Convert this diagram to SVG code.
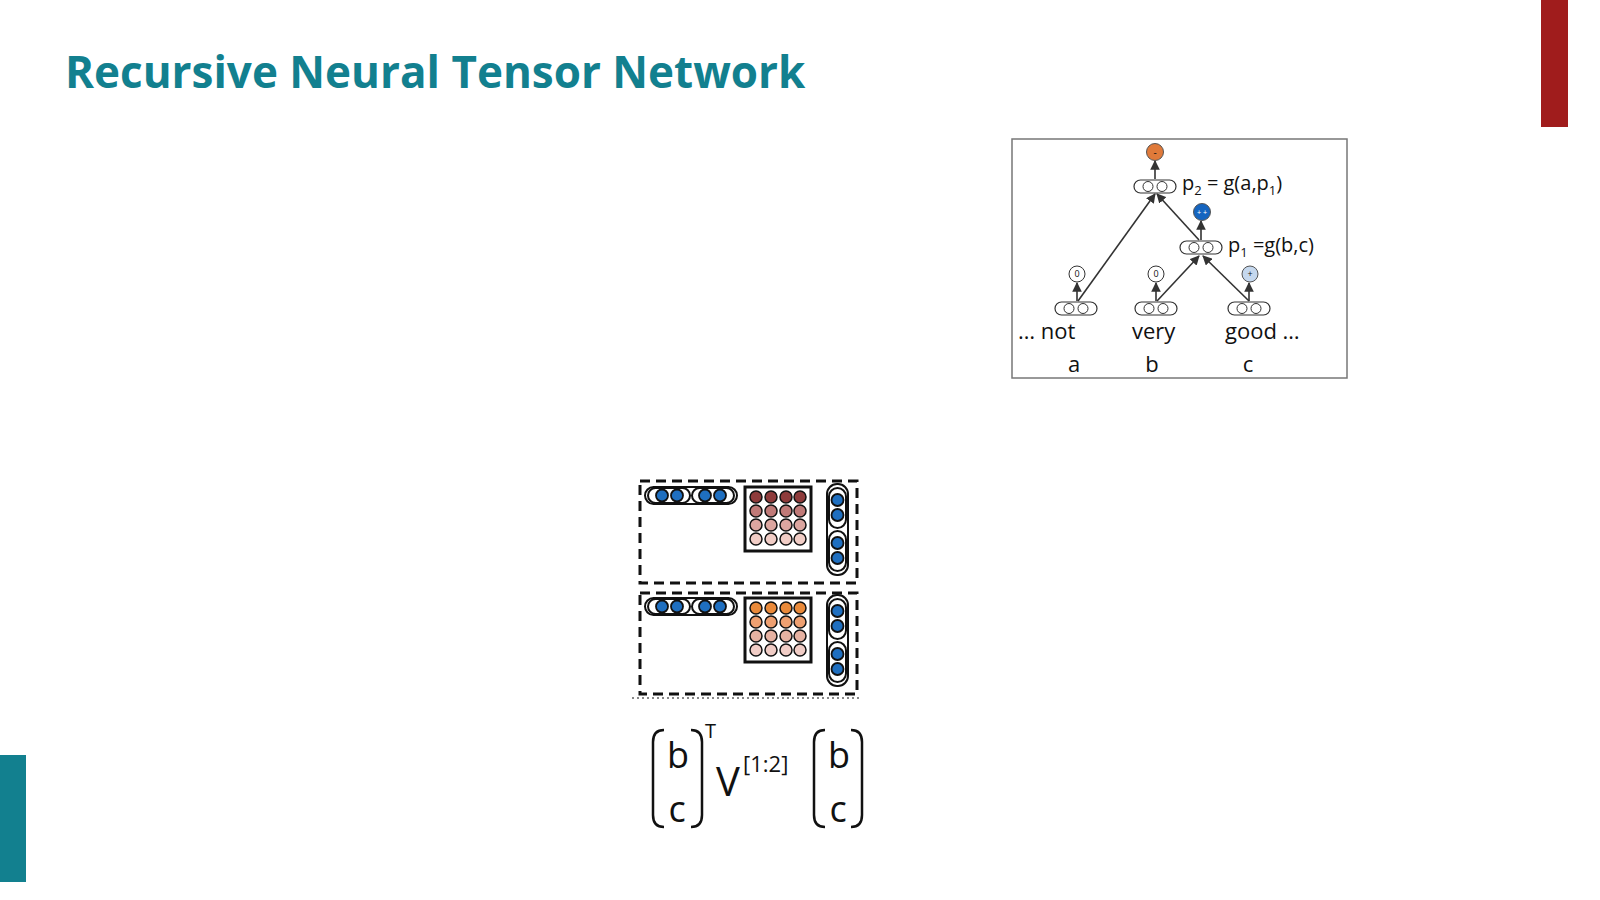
<svg xmlns="http://www.w3.org/2000/svg" width="1600" height="900" viewBox="0 0 1600 900">
<defs>
<style>
.t{font-family:"Open Sans","Liberation Sans",sans-serif;fill:#111}
.pill{fill:#fff;stroke:#333;stroke-width:1.2}
.c{fill:#fff;stroke:#333;stroke-width:1}
.e{stroke:#333;stroke-width:1.6;fill:none;marker-end:url(#ah)}
.dash{fill:none;stroke:#111;stroke-width:3;stroke-dasharray:10,6}
.bp{fill:#fff;stroke:#111;stroke-width:2}
.bc{fill:#1f6fc0;stroke:#111;stroke-width:1.8}
.mb{fill:#fff;stroke:#111;stroke-width:3}
.br{fill:none;stroke:#111;stroke-width:2.5}
</style>
<marker id="ah" viewBox="0 0 10 10" refX="9" refY="5" markerWidth="6" markerHeight="6" orient="auto"><path d="M0,0L10,5L0,10z" fill="#333"/></marker>
</defs>
<rect width="1600" height="900" fill="#fff"/>
<text x="65" y="88" style="font-family:'Open Sans','Liberation Sans',sans-serif;font-weight:bold;font-size:44px;fill:#12808f">Recursive Neural Tensor Network</text>
<rect x="1541" y="0" width="27" height="127" fill="#a01c1c"/>
<rect x="0" y="755" width="26" height="127" fill="#12808f"/>

<rect x="1012" y="139" width="335" height="239" fill="#fff" stroke="#777" stroke-width="1.5"/>
<g id="connectors">
<line class="e" x1="1078" y1="301" x2="1155" y2="194"/>
<line class="e" x1="1199" y1="240" x2="1157" y2="194"/>
<line class="e" x1="1157" y1="301" x2="1199" y2="256"/>
<line class="e" x1="1249" y1="301" x2="1203" y2="256"/>
<line class="e" x1="1155" y1="179" x2="1155" y2="161"/>
<line class="e" x1="1201" y1="240" x2="1201" y2="221"/>
<line class="e" x1="1077" y1="301" x2="1077" y2="283"/>
<line class="e" x1="1156" y1="301" x2="1156" y2="283"/>
<line class="e" x1="1249" y1="301" x2="1249" y2="283"/>
</g>
<g id="p2"><rect class="pill" x="1134" y="180" width="42" height="13" rx="6.5"/><circle class="c" cx="1148" cy="186.5" r="5"/><circle class="c" cx="1162" cy="186.5" r="5"/>
<text class="t" x="1182" y="190" font-size="20">p<tspan font-size="13" dy="5">2</tspan><tspan dy="-5"> = g(a,p</tspan><tspan font-size="13" dy="5">1</tspan><tspan dy="-5">)</tspan></text></g>
<g id="p2s"><circle cx="1155" cy="152" r="8.5" fill="#e07a3a" stroke="#555"/><text class="t" x="1155" y="156" font-size="10" text-anchor="middle">-</text></g>
<g id="p1"><rect class="pill" x="1180" y="241" width="42" height="13" rx="6.5"/><circle class="c" cx="1194" cy="247.5" r="5"/><circle class="c" cx="1208" cy="247.5" r="5"/>
<text class="t" x="1228" y="252" font-size="20">p<tspan font-size="13" dy="5">1</tspan><tspan dy="-5"> =g(b,c)</tspan></text></g>
<g id="p1s"><circle cx="1202" cy="212" r="8.5" fill="#1565c0" stroke="#555"/><text x="1202" y="215" font-size="7" fill="#fff" text-anchor="middle" font-family="Liberation Sans,sans-serif">+ +</text></g>
<g id="leafA"><rect class="pill" x="1055" y="302" width="42" height="13" rx="6.5"/><circle class="c" cx="1069" cy="308.5" r="5"/><circle class="c" cx="1083" cy="308.5" r="5"/><circle class="c" cx="1077" cy="274" r="8"/><text class="t" x="1077" y="277" font-size="9" text-anchor="middle">0</text></g>
<g id="leafB"><rect class="pill" x="1135" y="302" width="42" height="13" rx="6.5"/><circle class="c" cx="1149" cy="308.5" r="5"/><circle class="c" cx="1163" cy="308.5" r="5"/><circle class="c" cx="1156" cy="274" r="8"/><text class="t" x="1156" y="277" font-size="9" text-anchor="middle">0</text></g>
<g id="leafC"><rect class="pill" x="1228" y="302" width="42" height="13" rx="6.5"/><circle class="c" cx="1242" cy="308.5" r="5"/><circle class="c" cx="1256" cy="308.5" r="5"/><circle cx="1250" cy="274" r="8" fill="#c5d8ee" stroke="#555"/><text class="t" x="1250" y="277" font-size="9" text-anchor="middle">+</text></g>
<text class="t" font-size="22" x="1018" y="339">…  not</text>
<text class="t" font-size="22" x="1132" y="339">very</text>
<text class="t" font-size="22" x="1225" y="339">good …</text>
<text class="t" font-size="22" x="1074" y="372" text-anchor="middle">a</text>
<text class="t" font-size="22" x="1152" y="372" text-anchor="middle">b</text>
<text class="t" font-size="22" x="1248" y="372" text-anchor="middle">c</text>

<g id="slice1">
<rect class="dash" x="640" y="481" width="217" height="102"/>
<rect class="bp" x="645" y="487" width="92" height="17" rx="8.5"/>
<rect class="bp" x="648" y="488" width="42" height="15" rx="7.5"/><rect class="bp" x="692" y="488" width="42" height="15" rx="7.5"/>
<circle class="bc" cx="662" cy="495.5" r="6"/><circle class="bc" cx="677" cy="495.5" r="6"/><circle class="bc" cx="705" cy="495.5" r="6"/><circle class="bc" cx="720" cy="495.5" r="6"/>
<rect class="mb" x="745" y="487" width="66" height="64"/>
<g stroke="#111" stroke-width="1.5">
<circle cx="756" cy="497" r="6" fill="#8e3b3b"/><circle cx="771" cy="497" r="6" fill="#8e3b3b"/><circle cx="786" cy="497" r="6" fill="#8e3b3b"/><circle cx="800" cy="497" r="6" fill="#8e3b3b"/>
<circle cx="756" cy="511" r="6" fill="#c07a78"/><circle cx="771" cy="511" r="6" fill="#c07a78"/><circle cx="786" cy="511" r="6" fill="#c07a78"/><circle cx="800" cy="511" r="6" fill="#c07a78"/>
<circle cx="756" cy="525" r="6" fill="#dca6a0"/><circle cx="771" cy="525" r="6" fill="#dca6a0"/><circle cx="786" cy="525" r="6" fill="#dca6a0"/><circle cx="800" cy="525" r="6" fill="#dca6a0"/>
<circle cx="756" cy="539" r="6" fill="#f1cdc6"/><circle cx="771" cy="539" r="6" fill="#f1cdc6"/><circle cx="786" cy="539" r="6" fill="#f1cdc6"/><circle cx="800" cy="539" r="6" fill="#f1cdc6"/>
</g>
<rect class="bp" x="827" y="484" width="21" height="91" rx="10"/>
<rect class="bp" x="829" y="488" width="17" height="40" rx="8.5"/><rect class="bp" x="829" y="531" width="17" height="40" rx="8.5"/>
<circle class="bc" cx="837.5" cy="500" r="6"/><circle class="bc" cx="837.5" cy="515" r="6"/><circle class="bc" cx="837.5" cy="543" r="6"/><circle class="bc" cx="837.5" cy="558" r="6"/>
</g>
<g id="slice2">
<rect class="dash" x="640" y="593" width="217" height="101"/>
<rect class="bp" x="645" y="598" width="92" height="17" rx="8.5"/>
<rect class="bp" x="648" y="599" width="42" height="15" rx="7.5"/><rect class="bp" x="692" y="599" width="42" height="15" rx="7.5"/>
<circle class="bc" cx="662" cy="606.5" r="6"/><circle class="bc" cx="677" cy="606.5" r="6"/><circle class="bc" cx="705" cy="606.5" r="6"/><circle class="bc" cx="720" cy="606.5" r="6"/>
<rect class="mb" x="745" y="598" width="66" height="64"/>
<g stroke="#111" stroke-width="1.5">
<circle cx="756" cy="608" r="6" fill="#ea8a3a"/><circle cx="771" cy="608" r="6" fill="#ea8a3a"/><circle cx="786" cy="608" r="6" fill="#ea8a3a"/><circle cx="800" cy="608" r="6" fill="#ea8a3a"/>
<circle cx="756" cy="622" r="6" fill="#eea071"/><circle cx="771" cy="622" r="6" fill="#eea071"/><circle cx="786" cy="622" r="6" fill="#eea071"/><circle cx="800" cy="622" r="6" fill="#eea071"/>
<circle cx="756" cy="636" r="6" fill="#e6b2a2"/><circle cx="771" cy="636" r="6" fill="#e6b2a2"/><circle cx="786" cy="636" r="6" fill="#e6b2a2"/><circle cx="800" cy="636" r="6" fill="#e6b2a2"/>
<circle cx="756" cy="650" r="6" fill="#f1cdc6"/><circle cx="771" cy="650" r="6" fill="#f1cdc6"/><circle cx="786" cy="650" r="6" fill="#f1cdc6"/><circle cx="800" cy="650" r="6" fill="#f1cdc6"/>
</g>
<rect class="bp" x="827" y="595" width="21" height="91" rx="10"/>
<rect class="bp" x="829" y="599" width="17" height="40" rx="8.5"/><rect class="bp" x="829" y="642" width="17" height="40" rx="8.5"/>
<circle class="bc" cx="837.5" cy="611" r="6"/><circle class="bc" cx="837.5" cy="626" r="6"/><circle class="bc" cx="837.5" cy="654" r="6"/><circle class="bc" cx="837.5" cy="669" r="6"/>
</g>
<line x1="632" y1="698" x2="862" y2="698" stroke="#111" stroke-width="1" stroke-dasharray="2,3"/>

<g id="formula">
<path class="br" d="M664,730 Q653,730 653,742 L653,815 Q653,827 664,827"/>
<path class="br" d="M691,730 Q702,730 702,742 L702,815 Q702,827 691,827"/>
<text class="t" x="678" y="768" font-size="36" text-anchor="middle">b</text>
<text class="t" x="677" y="822" font-size="36" text-anchor="middle">c</text>
<text class="t" x="705" y="738" font-size="20">T</text>
<text class="t" x="716" y="796" font-size="40">V</text>
<text class="t" x="743" y="772" font-size="22">[1:2]</text>
<path class="br" d="M825,730 Q814,730 814,742 L814,815 Q814,827 825,827"/>
<path class="br" d="M851,730 Q862,730 862,742 L862,815 Q862,827 851,827"/>
<text class="t" x="839" y="768" font-size="36" text-anchor="middle">b</text>
<text class="t" x="838" y="822" font-size="36" text-anchor="middle">c</text>
</g>
</svg>
